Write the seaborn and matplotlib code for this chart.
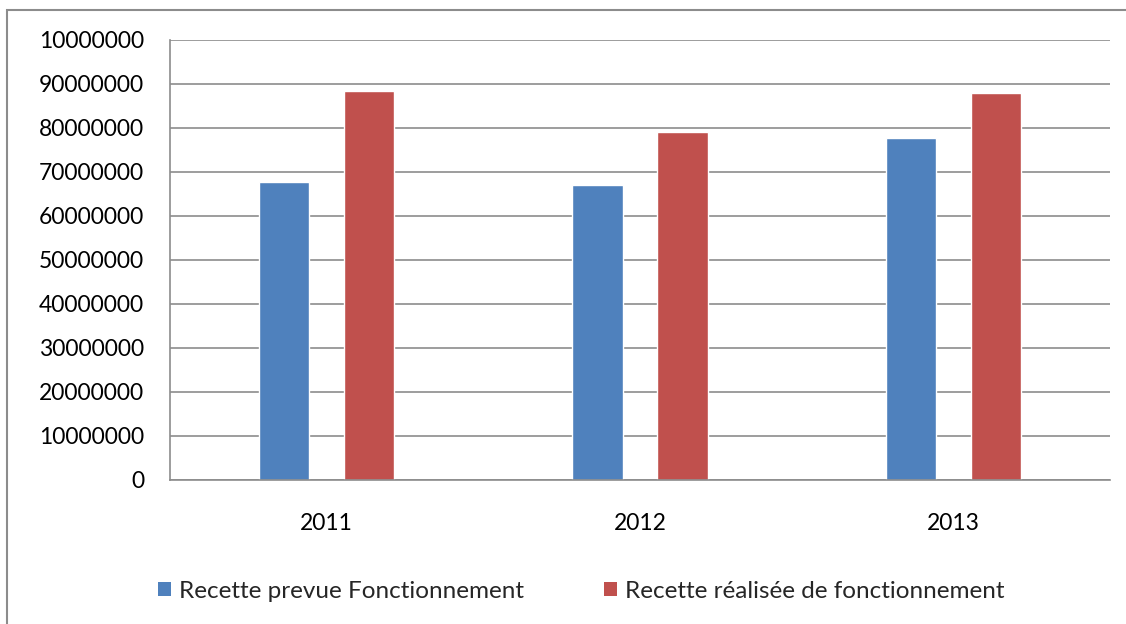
import matplotlib
matplotlib.use("Agg")
import matplotlib.pyplot as plt
import seaborn as sns
import pandas as pd
from matplotlib.patches import Rectangle, Patch

years = ["2011", "2012", "2013"]
prevue = [67700000, 67100000, 77700000]
realisee = [88400000, 79200000, 88000000]
series_names = ["Recette prevue Fonctionnement", "Recette réalisée de fonctionnement"]
colors = ["#4F81BD", "#C0504D"]
ytick_values = [0, 10000000, 20000000, 30000000, 40000000, 50000000,
                60000000, 70000000, 80000000, 90000000, 100000000]
ytick_labels = ["0", "10000000", "20000000", "30000000", "40000000", "50000000",
                "60000000", "70000000", "80000000", "90000000", "10000000"]

df = pd.DataFrame({
    "Année": years * 2,
    "Valeur": prevue + realisee,
    "Série": [series_names[0]] * 3 + [series_names[1]] * 3,
})

sns.set_style("white")
plt.rcParams["font.family"] = ["Lato", "DejaVu Sans"]

fig = plt.figure(figsize=(11.26, 6.24), dpi=100)
ax = fig.add_axes([170/1126, 1-480/624, 940/1126, 440/624])

sns.barplot(data=df, x="Année", y="Valeur", hue="Série", palette=colors,
            width=0.544, gap=0.41, ax=ax, legend=False, saturation=1)

ax.set_xlim(-0.5, 2.5)
ax.set_ylim(0, 100000000)
ax.set_yticks(ytick_values)
ax.set_yticklabels(ytick_labels)
ax.set_xlabel("")
ax.set_ylabel("")
ax.grid(axis="y", color="#8c8c8c", linewidth=1.2)
ax.set_axisbelow(True)
for s in ["top", "right"]:
    ax.spines[s].set_visible(False)
ax.spines["left"].set_color("#8c8c8c")
ax.spines["bottom"].set_color("#8c8c8c")
ax.spines["left"].set_linewidth(1.2)
ax.spines["bottom"].set_linewidth(1.2)
ax.tick_params(axis="y", left=False, pad=15, labelsize=16.5, labelcolor="black")
ax.tick_params(axis="x", bottom=False, pad=20, labelsize=16.5, labelcolor="black")

handles = [Patch(facecolor=c, edgecolor="none") for c in colors]
fig.legend(handles, series_names, loc="center", bbox_to_anchor=(0.516, 1-591/624),
           ncol=2, frameon=False, fontsize=17.5, handlelength=0.55, handleheight=0.55,
           handletextpad=0.3, columnspacing=3.3)

fig.patches.append(Rectangle((7.5/1126, -20/624), 1200/1126, 634/624,
                             transform=fig.transFigure, fill=False,
                             edgecolor="#8c8c8c", linewidth=1.5))

fig.savefig("out.png", dpi=100)
